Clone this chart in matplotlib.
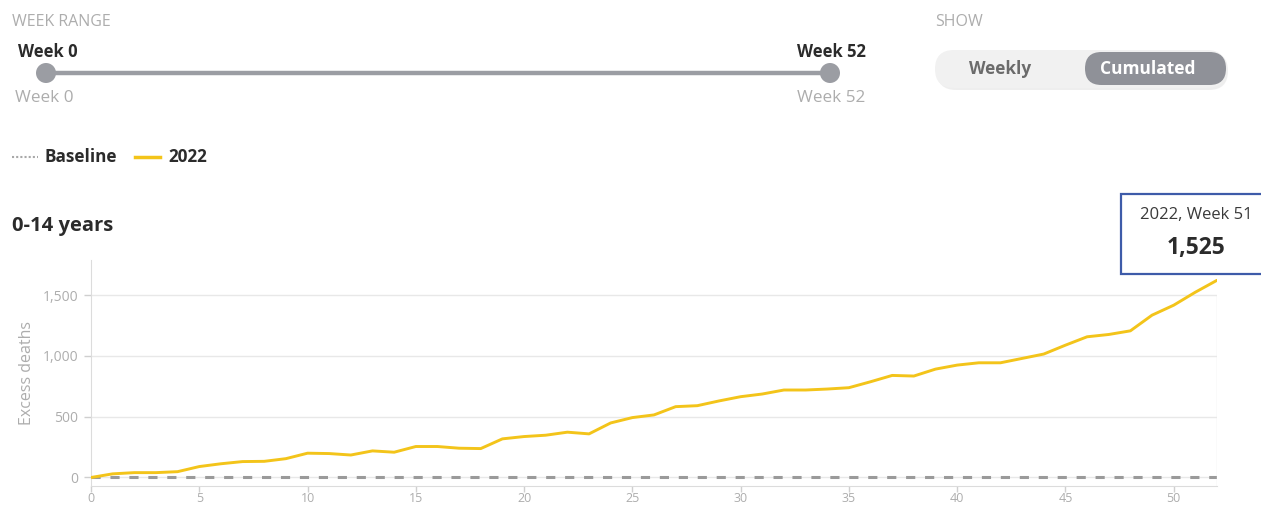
"""Cumulated excess deaths, 0-14 years, 2022 vs baseline (dashboard snapshot)."""

import matplotlib

matplotlib.use("Agg")
import matplotlib.pyplot as plt
from matplotlib.patches import Circle, FancyBboxPatch, Rectangle
from matplotlib.ticker import FuncFormatter

weeks = list(range(53))
excess_2022 = [0, 30, 40, 40, 48, 90, 113, 131, 133, 155, 200, 197, 185, 219, 208,
               255, 255, 241, 238, 318, 337, 348, 373, 359, 449, 493, 515, 583, 591,
               630, 665, 687, 720, 720, 728, 739, 788, 840, 835, 892, 925, 944, 944,
               980, 1016, 1089, 1158, 1177, 1207, 1336, 1418, 1525, 1623]
baseline = [0] * len(weeks)
x_ticks = [0, 5, 10, 15, 20, 25, 30, 35, 40, 45, 50]
y_ticks = [0, 500, 1000, 1500]
tooltip_week = 51
tooltip_value = 1525

INK = "#2b2b2b"
MUTED = "#adadad"
GRID = "#e8e8e8"
YELLOW = "#f3c41a"
SLIDER = "#9b9da3"

W, H = 1261, 508
plt.rcParams.update({"font.family": ["Open Sans", "DejaVu Sans"]})
fig = plt.figure(figsize=(W / 100, H / 100), dpi=100, facecolor="white")

# main chart, placed in pixel terms
left, right, top, bottom = 91, 1217, 260, 486
ax = fig.add_axes([left / W, 1 - bottom / H, (right - left) / W, (bottom - top) / H])
ax.plot(weeks, baseline, color="#9a9a9a", linewidth=2.2, dashes=(3, 3.2), zorder=2)
ax.plot(weeks, excess_2022, color=YELLOW, linewidth=2.1, zorder=3, solid_capstyle="round")
ax.set_xlim(0, 52)
ax.set_ylim(-70, 1790)
ax.set_xticks(x_ticks)
ax.set_yticks(y_ticks)
ax.yaxis.set_major_formatter(FuncFormatter(lambda v, _: f"{v:,.0f}"))
ax.grid(axis="y", color=GRID, linewidth=1)
ax.vlines(52, -70, 1500, color=GRID, linewidth=1)
for side in ("top", "right"):
    ax.spines[side].set_visible(False)
for side in ("left", "bottom"):
    ax.spines[side].set_color("#dcdcdc")
ax.tick_params(colors="#cfcfcf", labelcolor=MUTED, labelsize=10, length=5, width=1)
ax.tick_params(axis="x", pad=0.5, length=4, labelsize=9)
ax.tick_params(axis="y", pad=4)
ax.set_ylabel("Excess deaths", color=MUTED, fontsize=11.5, labelpad=6)

# overlay in pixel coordinates for the dashboard controls
ui = fig.add_axes([0, 0, 1, 1])
ui.set_xlim(0, W)
ui.set_ylim(H, 0)
ui.set_axis_off()
ui.patch.set_alpha(0)

ui.text(12, 22, "WEEK RANGE", color=MUTED, fontsize=11.5, va="center")
ui.plot([46, 830], [73, 73], color=SLIDER, linewidth=3.2, solid_capstyle="butt")
for cx in (46, 830):
    ui.add_patch(Circle((cx, 73), 10, facecolor=SLIDER, edgecolor="none"))
ui.text(18, 52, "Week 0", color=INK, fontsize=12, fontweight="bold", va="center")
ui.text(15, 98, "Week 0", color=MUTED, fontsize=12.3, va="center")
ui.text(797, 52, "Week 52", color=INK, fontsize=12, fontweight="bold", va="center")
ui.text(797, 98, "Week 52", color=MUTED, fontsize=12.3, va="center")

ui.text(935, 22, "SHOW", color=MUTED, fontsize=11.5, va="center")
ui.add_patch(FancyBboxPatch((937, 52), 291, 38, boxstyle="round,pad=0,rounding_size=19",
                            facecolor="#e4e4e4", edgecolor="none", alpha=.6))
ui.add_patch(FancyBboxPatch((935, 50), 291, 38, boxstyle="round,pad=0,rounding_size=19",
                            facecolor="#f1f1f1", edgecolor="none"))
ui.add_patch(FancyBboxPatch((1085, 52), 141, 33, boxstyle="round,pad=0,rounding_size=16.5",
                            facecolor="#8f9198", edgecolor="none"))
ui.text(1000, 69, "Weekly", color="#6b6b6b", fontsize=12.3, fontweight="bold", ha="center", va="center")
ui.text(1148, 69, "Cumulated", color="white", fontsize=12.5, fontweight="bold", ha="center", va="center")

# legend
ui.plot([12, 38], [157, 157], color="#a8a8a8", linewidth=1.5, dashes=(1, 1))
ui.text(45, 157, "Baseline", color=INK, fontsize=12.3, fontweight="bold", va="center")
ui.plot([135, 160], [157, 157], color=YELLOW, linewidth=2.5)
ui.text(168, 157, "2022", color=INK, fontsize=12.3, fontweight="bold", va="center")

ui.text(12, 226, "0-14 years", color=INK, fontsize=14.5, fontweight="bold", va="center")

# hover tooltip
ui.add_patch(Rectangle((1121, 194), 150, 80, facecolor="white", edgecolor="#3e5ba9", linewidth=1.6))
ui.text(1196, 215, f"2022, Week {tooltip_week}", color="#3a3a3a", fontsize=12, ha="center", va="center")
ui.text(1196, 248, f"{tooltip_value:,}", color=INK, fontsize=16.5, fontweight="bold", ha="center", va="center")

fig.savefig("out.png", dpi=100, facecolor="white")
